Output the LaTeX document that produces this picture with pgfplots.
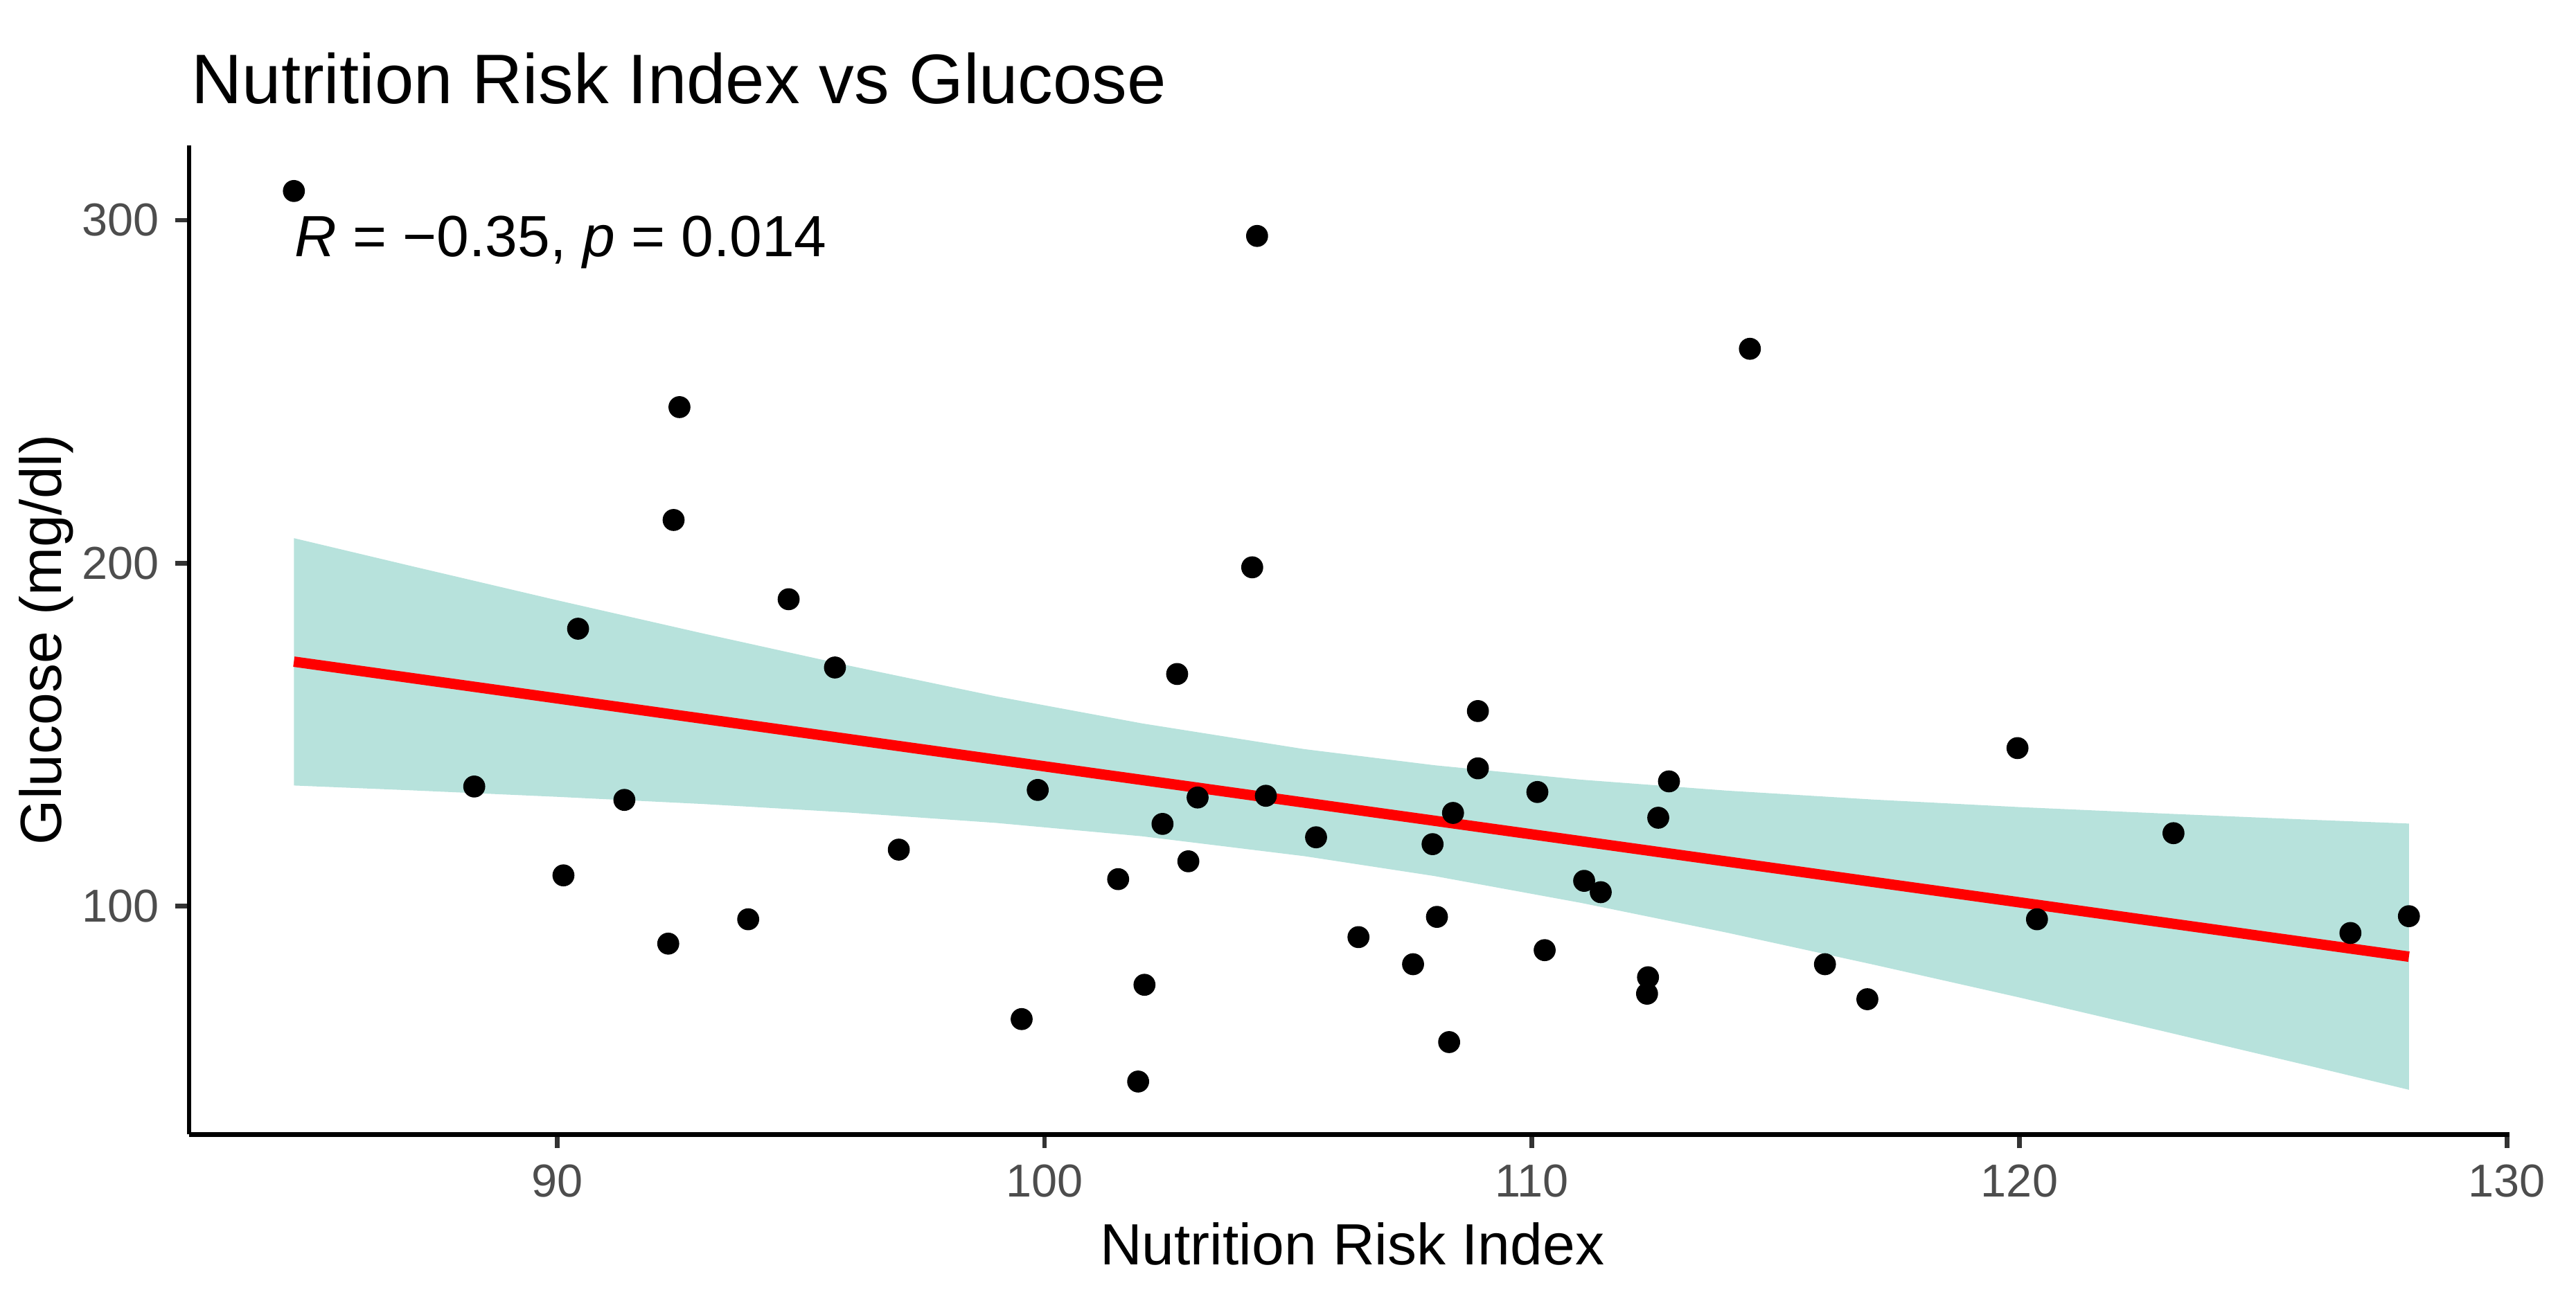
\documentclass[border=0pt]{standalone}
\usepackage{pgfplots}
\pgfplotsset{compat=1.18}
\usepackage{fontspec}
\setmainfont{Liberation Sans}
\definecolor{bandc}{RGB}{49,172,155}
\definecolor{tickgray}{RGB}{77,77,77}
\definecolor{tickline}{RGB}{51,51,51}

\pgfplotstableread{
x y
84.60 308.5
88.30 134.9
90.13 109.0
90.43 180.9
91.38 131.0
92.28 89.1
92.39 212.6
92.51 245.5
93.92 96.2
94.75 189.5
95.70 169.6
97.01 116.5
99.53 67.1
99.86 133.9
101.51 107.9
101.92 48.9
102.05 77.1
102.42 124.0
102.72 167.7
102.95 113.1
103.14 131.7
104.26 198.8
104.36 295.4
104.54 132.2
105.57 120.1
106.44 91.0
107.56 83.1
107.96 118.1
108.05 96.9
108.30 60.4
108.38 127.2
108.89 156.9
108.89 140.2
110.11 133.3
110.26 87.2
111.07 107.4
111.41 104.1
112.36 74.5
112.38 79.3
112.59 125.8
112.81 136.4
114.47 262.5
116.01 83.1
116.88 72.9
119.96 146.1
120.36 96.2
123.16 121.3
126.79 92.2
127.99 97.1
}\pointdata

\begin{document}
\begin{tikzpicture}
\path[use as bounding box] (0,0) rectangle (558pt,279.4pt);
\begin{axis}[
  at={(40.96pt,33.6pt)}, anchor=south west,
  scale only axis, width=502.6pt, height=214.3pt,
  xmin=82.45, xmax=130.05, ymin=33.5, ymax=321.8,
  axis lines*=left,
  axis line style={-, black, line width=1pt},
  xtick={90,100,110,120,130}, ytick={100,200,300},
  tick align=outside, major tick length=3pt,
  tick style={tickline, line width=1pt},
  ticklabel style={font=\fontsize{10}{12}\selectfont, text=tickgray},
  /pgf/number format/assume math mode=true,
  clip=false,
]
\addplot[only marks, mark=*, mark size=2.18pt, draw=black, fill=black] table[x=x,y=y] {\pointdata};
\addplot[draw=none, fill=bandc, fill opacity=0.35] coordinates {
(84.6,207.3) (87,199.2) (90,189.2) (93,179.5) (96,170.1) (99,161.2) (102,153.3) (105.33,145.8) (108,141.1) (111,136.9) (114,133.7) (117,131.1) (120,128.9) (123,127.0) (126,125.2) (127.99,124.1)
(127.99,46.5) (126,53.3) (123,63.4) (120,73.4) (117,83.0) (114,92.3) (111,101.0) (108,108.8) (105.33,114.6) (102,120.4) (99,124.3) (96,127.3) (93,129.8) (90,131.9) (87,133.8) (84.6,135.2)
} -- cycle;
\addplot[red, line width=2.25pt] coordinates {(84.6,171.3) (127.99,85.3)};
\node[anchor=base west, inner sep=0, font=\fontsize{12.6}{15}\selectfont] at (axis cs:84.6,289.3) {\textit{R} = −0.35, \textit{p} = 0.014};
\end{axis}
\node[anchor=base west, inner sep=0, font=\fontsize{15.2}{18}\selectfont] at (41.3pt,256.9pt) {Nutrition Risk Index vs Glucose};
\node[anchor=base, inner sep=0, font=\fontsize{12.6}{15}\selectfont] at (292.9pt,5.3pt) {Nutrition Risk Index};
\node[anchor=base, inner sep=0, rotate=90, font=\fontsize{12.6}{15}\selectfont] at (13.35pt,140.8pt) {Glucose (mg/dl)};
\end{tikzpicture}
\end{document}
